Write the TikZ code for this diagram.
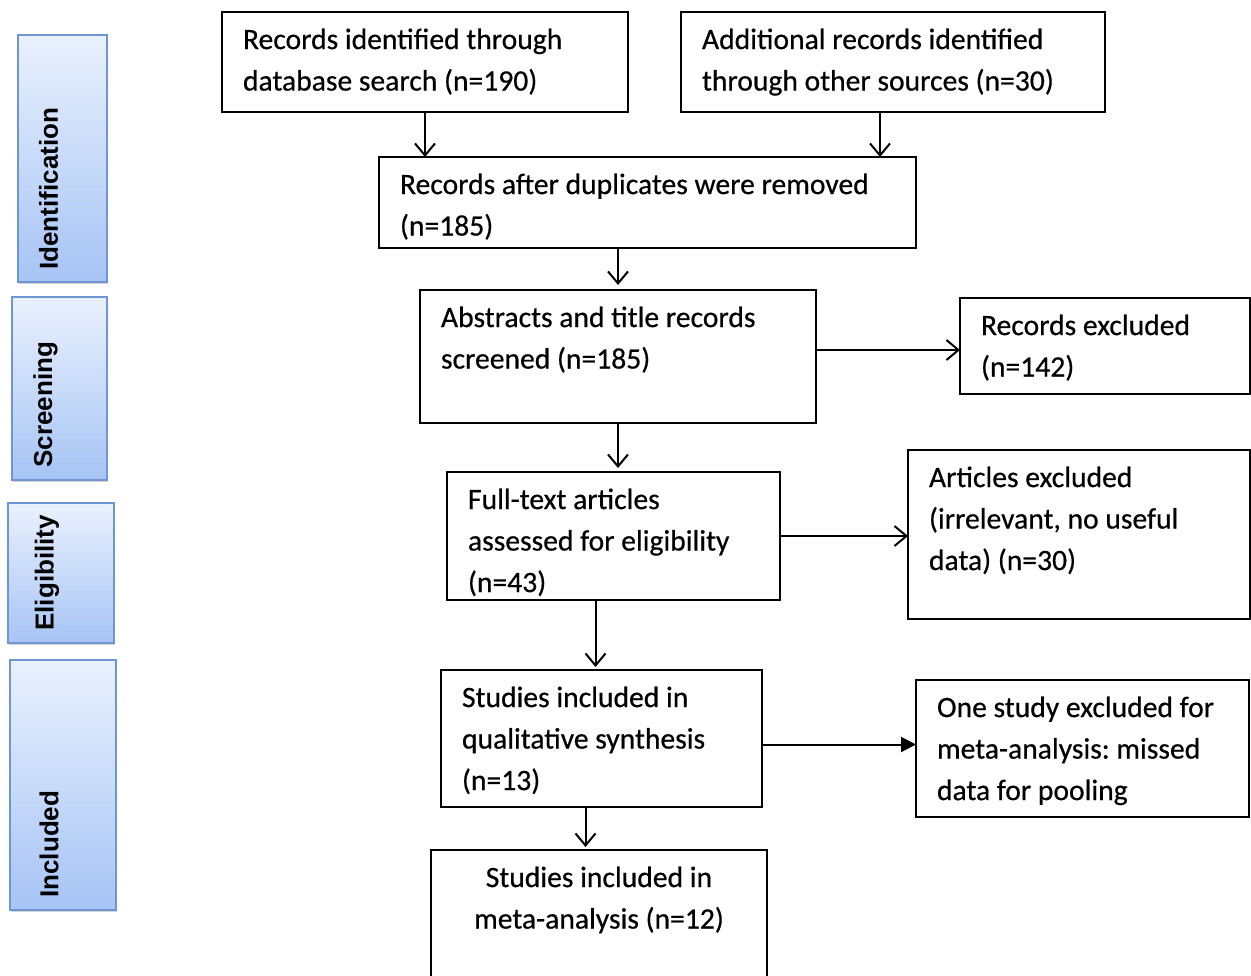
\documentclass[tikz,border=0pt]{standalone}
\usepackage{fontspec}
\setmainfont{Carlito}
\newfontfamily\pFlowFont{Carlito}[FakeBold=0.5]
\newfontfamily\pSideFont{Liberation Sans}
\usetikzlibrary{arrows.meta,shadows}
\definecolor{stagetop}{RGB}{234,241,253}
\definecolor{stagebottom}{RGB}{166,196,245}
\definecolor{stageborder}{RGB}{110,150,210}
\frenchspacing
\newcommand{\pFlowText}[3]{\parbox[t][#2pt][t]{#1pt}{\strut#3}}
\tikzset{
  flowbox/.style={draw, line width=0.9pt, anchor=north west, inner xsep=10.5pt, inner ysep=4pt, outer sep=0pt, font=\pFlowFont\fontsize{14.8}{20.75}\selectfont},
  stagebox/.style={draw=stageborder, line width=0.8pt, top color=stagetop, bottom color=stagebottom, anchor=north west, inner sep=0pt, outer sep=0pt, drop shadow={shadow xshift=0.6pt, shadow yshift=-1.2pt, opacity=0.35}},
  stagetext/.style={rotate=90, anchor=west, inner sep=0pt, font=\pSideFont\bfseries\fontsize{13}{15}\selectfont},
  flowarrow/.style={line width=1pt, -{Straight Barb[length=6pt,width=10pt]}},
  solidarrow/.style={line width=1pt, -{Triangle[length=7.5pt,width=7.5pt]}}
}
\begin{document}
\begin{tikzpicture}[x=0.5pt,y=-0.5pt]
\useasboundingbox (0,0) rectangle (1251,975);
\node[stagebox, minimum width=44.5pt, minimum height=123.5pt] (idBox) at (18,35) {};
\node[stagebox, minimum width=47.5pt, minimum height=91.5pt] (scrBox) at (12,297) {};
\node[stagebox, minimum width=53pt, minimum height=70pt] (eligBox) at (8,503) {};
\node[stagebox, minimum width=53pt, minimum height=125pt] (inclBox) at (10,660) {};
\node[stagetext] (idText) at ([xshift=-7pt,yshift=6pt]idBox.south) {Identification};
\node[stagetext] (scrText) at ([xshift=-7pt,yshift=6pt]scrBox.south) {Screening};
\node[stagetext] (eligText) at ([xshift=-7pt,yshift=6pt]eligBox.south) {Eligibility};
\node[stagetext] (inclText) at ([xshift=-7pt,yshift=6pt]inclBox.south) {Included};
\node[flowbox] (dbRec) at (222,12) {\pFlowText{182}{42}{Records identified through\\database search (n=190)}};
\node[flowbox] (otherRec) at (681,12) {\pFlowText{191}{42}{Additional records identified\\through other sources (n=30)}};
\node[flowbox] (dedup) at (379,157) {\pFlowText{247.5}{37.5}{Records after duplicates were removed\\(n=185)}};
\node[flowbox] (screened) at (420,290) {\pFlowText{177}{58.5}{Abstracts and title records\\screened (n=185)}};
\node[flowbox] (recExcl) at (960,298) {\pFlowText{124}{40}{Records excluded\\(n=142)}};
\node[flowbox] (fullText) at (447,472) {\pFlowText{145.5}{56}{Full-text articles\\assessed for eligibility\\(n=43)}};
\node[flowbox] (artExcl) at (908,450) {\pFlowText{150}{76.5}{Articles excluded\\(irrelevant, no useful\\data) (n=30)}};
\node[flowbox] (qualSyn) at (441,670) {\pFlowText{139.5}{60.5}{Studies included in\\qualitative synthesis\\(n=13)}};
\node[flowbox] (oneExcl) at (916,680) {\pFlowText{145.5}{60.5}{One study excluded for\\meta-analysis: missed\\data for pooling}};
\node[flowbox] (metaAn) at (431,850) {\pFlowText{147}{58}{\centering Studies included in\\meta-analysis (n=12)}};
\draw[flowarrow] (dbRec.south) -- (dbRec.south |- dedup.north);
\draw[flowarrow] ([xshift=-6.5pt]otherRec.south) -- ([xshift=-6.5pt]otherRec.south |- dedup.north);
\draw[flowarrow, shorten >=2.5pt] (dedup.south -| screened.north) -- (screened.north);
\draw[flowarrow] ([yshift=-2pt]screened.east |- recExcl.west) -- ([yshift=-2pt]recExcl.west);
\draw[flowarrow, shorten >=2pt] (screened.south) -- (screened.south |- fullText.north);
\draw[flowarrow] (fullText.east) -- (fullText.east -| artExcl.west);
\draw[flowarrow, shorten >=1.5pt] ([xshift=-3pt]qualSyn.north |- fullText.south) -- ([xshift=-3pt]qualSyn.north);
\draw[solidarrow] ([yshift=-3pt]qualSyn.east) -- ([yshift=-3pt]qualSyn.east -| oneExcl.west);
\draw[flowarrow, shorten >=1.5pt] ([xshift=-8pt]qualSyn.south) -- ([xshift=-8pt]qualSyn.south |- metaAn.north);
\end{tikzpicture}
\end{document}
